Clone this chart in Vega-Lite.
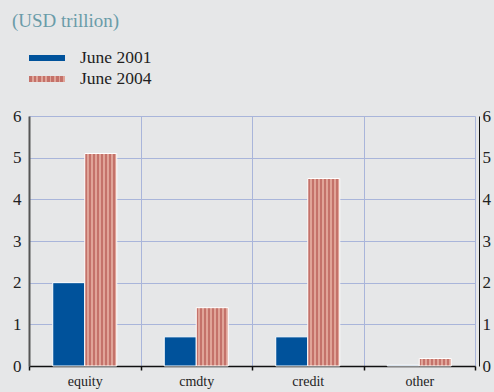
{
  "$schema": "https://vega.github.io/schema/vega-lite/v6.json",
  "autosize": "none",
  "width": 446,
  "height": 250,
  "padding": {"left": 29, "top": 116, "right": 19, "bottom": 26},
  "background": "#e6e7e8",
  "title": {
    "text": "(USD trillion)",
    "anchor": "start",
    "frame": "group",
    "orient": "top",
    "offset": 17,
    "dx": -17,
    "font": "Liberation Serif",
    "fontSize": 19,
    "fontWeight": "normal",
    "color": "#6a9ca8"
  },
  "data": {
    "values": [
      {"cat": "equity", "period": "June 2001", "value": 2.0},
      {"cat": "equity", "period": "June 2004", "value": 5.1},
      {"cat": "cmdty", "period": "June 2001", "value": 0.7},
      {"cat": "cmdty", "period": "June 2004", "value": 1.4},
      {"cat": "credit", "period": "June 2001", "value": 0.7},
      {"cat": "credit", "period": "June 2004", "value": 4.5},
      {"cat": "other", "period": "June 2001", "value": 0.02},
      {"cat": "other", "period": "June 2004", "value": 0.18}
    ]
  },
  "config": {
    "view": {"stroke": null},
    "axis": {"labelFont": "Liberation Serif", "titleFont": "Liberation Serif"}
  },
  "resolve": {"axis": {"y": "independent"}},
  "layer": [
    {
      "transform": [{"filter": "datum.period === 'June 2001'"}],
      "mark": {"type": "bar", "stroke": "white", "strokeWidth": 1},
      "encoding": {
        "x": {
          "field": "cat",
          "type": "nominal",
          "sort": ["equity", "cmdty", "credit", "other"],
          "scale": {"domain": ["equity", "cmdty", "credit", "other"], "paddingInner": 0, "paddingOuter": 0},
          "axis": {
            "title": null,
            "labelAngle": 0,
            "labelFont": "Liberation Serif",
            "labelFontSize": 14,
            "labelColor": "#222",
            "labelPadding": 4,
            "domainColor": "#111",
            "domainWidth": 1.5,
            "tickBand": "extent",
            "ticks": true,
            "tickColor": "#111",
            "tickSize": 4,
            "tickWidth": 1.5,
            "grid": true,
            "gridColor": "#a9b5da",
            "gridWidth": 1
          }
        },
        "xOffset": {
          "field": "period",
          "type": "nominal",
          "scale": {"domain": ["June 2001", "June 2004"], "paddingInner": 0, "paddingOuter": 0.742}
        },
        "y": {
          "field": "value",
          "type": "quantitative",
          "scale": {"domain": [0, 6], "nice": false},
          "axis": {
            "title": null,
            "values": [0, 1, 2, 3, 4, 5, 6],
            "orient": "left",
            "labelFont": "Liberation Serif",
            "labelFontSize": 17,
            "labelColor": "#222",
            "labelPadding": 8,
            "ticks": false,
            "domainColor": "#555",
            "domainWidth": 2,
            "grid": true,
            "gridColor": "#a9b5da",
            "gridWidth": 1
          }
        },
        "color": {
          "field": "period",
          "type": "nominal",
          "scale": {
            "domain": ["June 2001"],
            "range": ["#00529b"]
          },
          "legend": {
            "title": null,
            "orient": "none",
            "legendX": 0,
            "legendY": -68,
            "padding": 0,
            "symbolType": "M-1,-0.17H1V0.17H-1Z",
            "symbolSize": 1296,
            "symbolStrokeWidth": 0,
            "symbolOpacity": 1,
            "clipHeight": 20,
            "labelOffset": 15,
            "labelFont": "Liberation Serif",
            "labelFontSize": 17.5,
            "labelColor": "#222"
          }
        }
      }
    },
    {
      "transform": [{"filter": "datum.period === 'June 2004'"}],
      "mark": {
        "type": "bar",
        "stroke": "white",
        "strokeWidth": 1,
        "fill": {
          "gradient": "linear",
          "x1": 0, "y1": 0, "x2": 1, "y2": 0,
          "stops": [
            {"offset": 0, "color": "#c4726a"},
            {"offset": 0.07, "color": "#c4726a"},
            {"offset": 0.07, "color": "#e0a498"},
            {"offset": 0.125, "color": "#e0a498"},
            {"offset": 0.125, "color": "#c4726a"},
            {"offset": 0.195, "color": "#c4726a"},
            {"offset": 0.195, "color": "#e0a498"},
            {"offset": 0.25, "color": "#e0a498"},
            {"offset": 0.25, "color": "#c4726a"},
            {"offset": 0.32, "color": "#c4726a"},
            {"offset": 0.32, "color": "#e0a498"},
            {"offset": 0.375, "color": "#e0a498"},
            {"offset": 0.375, "color": "#c4726a"},
            {"offset": 0.445, "color": "#c4726a"},
            {"offset": 0.445, "color": "#e0a498"},
            {"offset": 0.5, "color": "#e0a498"},
            {"offset": 0.5, "color": "#c4726a"},
            {"offset": 0.57, "color": "#c4726a"},
            {"offset": 0.57, "color": "#e0a498"},
            {"offset": 0.625, "color": "#e0a498"},
            {"offset": 0.625, "color": "#c4726a"},
            {"offset": 0.695, "color": "#c4726a"},
            {"offset": 0.695, "color": "#e0a498"},
            {"offset": 0.75, "color": "#e0a498"},
            {"offset": 0.75, "color": "#c4726a"},
            {"offset": 0.82, "color": "#c4726a"},
            {"offset": 0.82, "color": "#e0a498"},
            {"offset": 0.875, "color": "#e0a498"},
            {"offset": 0.875, "color": "#c4726a"},
            {"offset": 0.945, "color": "#c4726a"},
            {"offset": 0.945, "color": "#e0a498"},
            {"offset": 1, "color": "#e0a498"}
          ]
        }
      },
      "encoding": {
        "x": {
          "field": "cat",
          "type": "nominal",
          "sort": ["equity", "cmdty", "credit", "other"]
        },
        "xOffset": {
          "field": "period",
          "type": "nominal"
        },
        "y": {
          "field": "value",
          "type": "quantitative",
          "axis": null
        },
        "opacity": {
          "field": "period",
          "type": "nominal",
          "scale": {"domain": ["June 2004"], "range": [1]},
          "legend": {
            "title": null,
            "orient": "none",
            "legendX": 0,
            "legendY": -47,
            "padding": 0,
            "symbolType": "M-1,-0.17H1V0.17H-1Z",
            "symbolSize": 1296,
            "symbolStrokeWidth": 0,
            "clipHeight": 20,
            "labelOffset": 15,
            "labelFont": "Liberation Serif",
            "labelFontSize": 17.5,
            "labelColor": "#222",
            "symbolFillColor": {
              "gradient": "linear",
              "x1": 0, "y1": 0, "x2": 1, "y2": 0,
              "stops": [
                {"offset": 0, "color": "#c4726a"},
                {"offset": 0.05, "color": "#c4726a"},
                {"offset": 0.05, "color": "#e0a498"},
                {"offset": 0.0833, "color": "#e0a498"},
                {"offset": 0.0833, "color": "#c4726a"},
                {"offset": 0.1333, "color": "#c4726a"},
                {"offset": 0.1333, "color": "#e0a498"},
                {"offset": 0.1667, "color": "#e0a498"},
                {"offset": 0.1667, "color": "#c4726a"},
                {"offset": 0.2167, "color": "#c4726a"},
                {"offset": 0.2167, "color": "#e0a498"},
                {"offset": 0.25, "color": "#e0a498"},
                {"offset": 0.25, "color": "#c4726a"},
                {"offset": 0.3, "color": "#c4726a"},
                {"offset": 0.3, "color": "#e0a498"},
                {"offset": 0.3333, "color": "#e0a498"},
                {"offset": 0.3333, "color": "#c4726a"},
                {"offset": 0.3833, "color": "#c4726a"},
                {"offset": 0.3833, "color": "#e0a498"},
                {"offset": 0.4167, "color": "#e0a498"},
                {"offset": 0.4167, "color": "#c4726a"},
                {"offset": 0.4667, "color": "#c4726a"},
                {"offset": 0.4667, "color": "#e0a498"},
                {"offset": 0.5, "color": "#e0a498"},
                {"offset": 0.5, "color": "#c4726a"},
                {"offset": 0.55, "color": "#c4726a"},
                {"offset": 0.55, "color": "#e0a498"},
                {"offset": 0.5833, "color": "#e0a498"},
                {"offset": 0.5833, "color": "#c4726a"},
                {"offset": 0.6333, "color": "#c4726a"},
                {"offset": 0.6333, "color": "#e0a498"},
                {"offset": 0.6667, "color": "#e0a498"},
                {"offset": 0.6667, "color": "#c4726a"},
                {"offset": 0.7167, "color": "#c4726a"},
                {"offset": 0.7167, "color": "#e0a498"},
                {"offset": 0.75, "color": "#e0a498"},
                {"offset": 0.75, "color": "#c4726a"},
                {"offset": 0.8, "color": "#c4726a"},
                {"offset": 0.8, "color": "#e0a498"},
                {"offset": 0.8333, "color": "#e0a498"},
                {"offset": 0.8333, "color": "#c4726a"},
                {"offset": 0.8833, "color": "#c4726a"},
                {"offset": 0.8833, "color": "#e0a498"},
                {"offset": 0.9167, "color": "#e0a498"},
                {"offset": 0.9167, "color": "#c4726a"},
                {"offset": 0.9667, "color": "#c4726a"},
                {"offset": 0.9667, "color": "#e0a498"},
                {"offset": 1, "color": "#e0a498"}
              ]
            }
          }
        }
      }
    },
    {
      "mark": {"type": "rule", "opacity": 0},
      "encoding": {
        "y": {
          "field": "value",
          "type": "quantitative",
          "axis": {
            "title": null,
            "orient": "right",
            "values": [0, 1, 2, 3, 4, 5, 6],
            "offset": 4,
            "labelFont": "Liberation Serif",
            "labelFontSize": 17,
            "labelColor": "#222",
            "labelPadding": 3,
            "ticks": false,
            "domainColor": "#111",
            "domainWidth": 1,
            "grid": false
          }
        }
      }
    }
  ]
}
